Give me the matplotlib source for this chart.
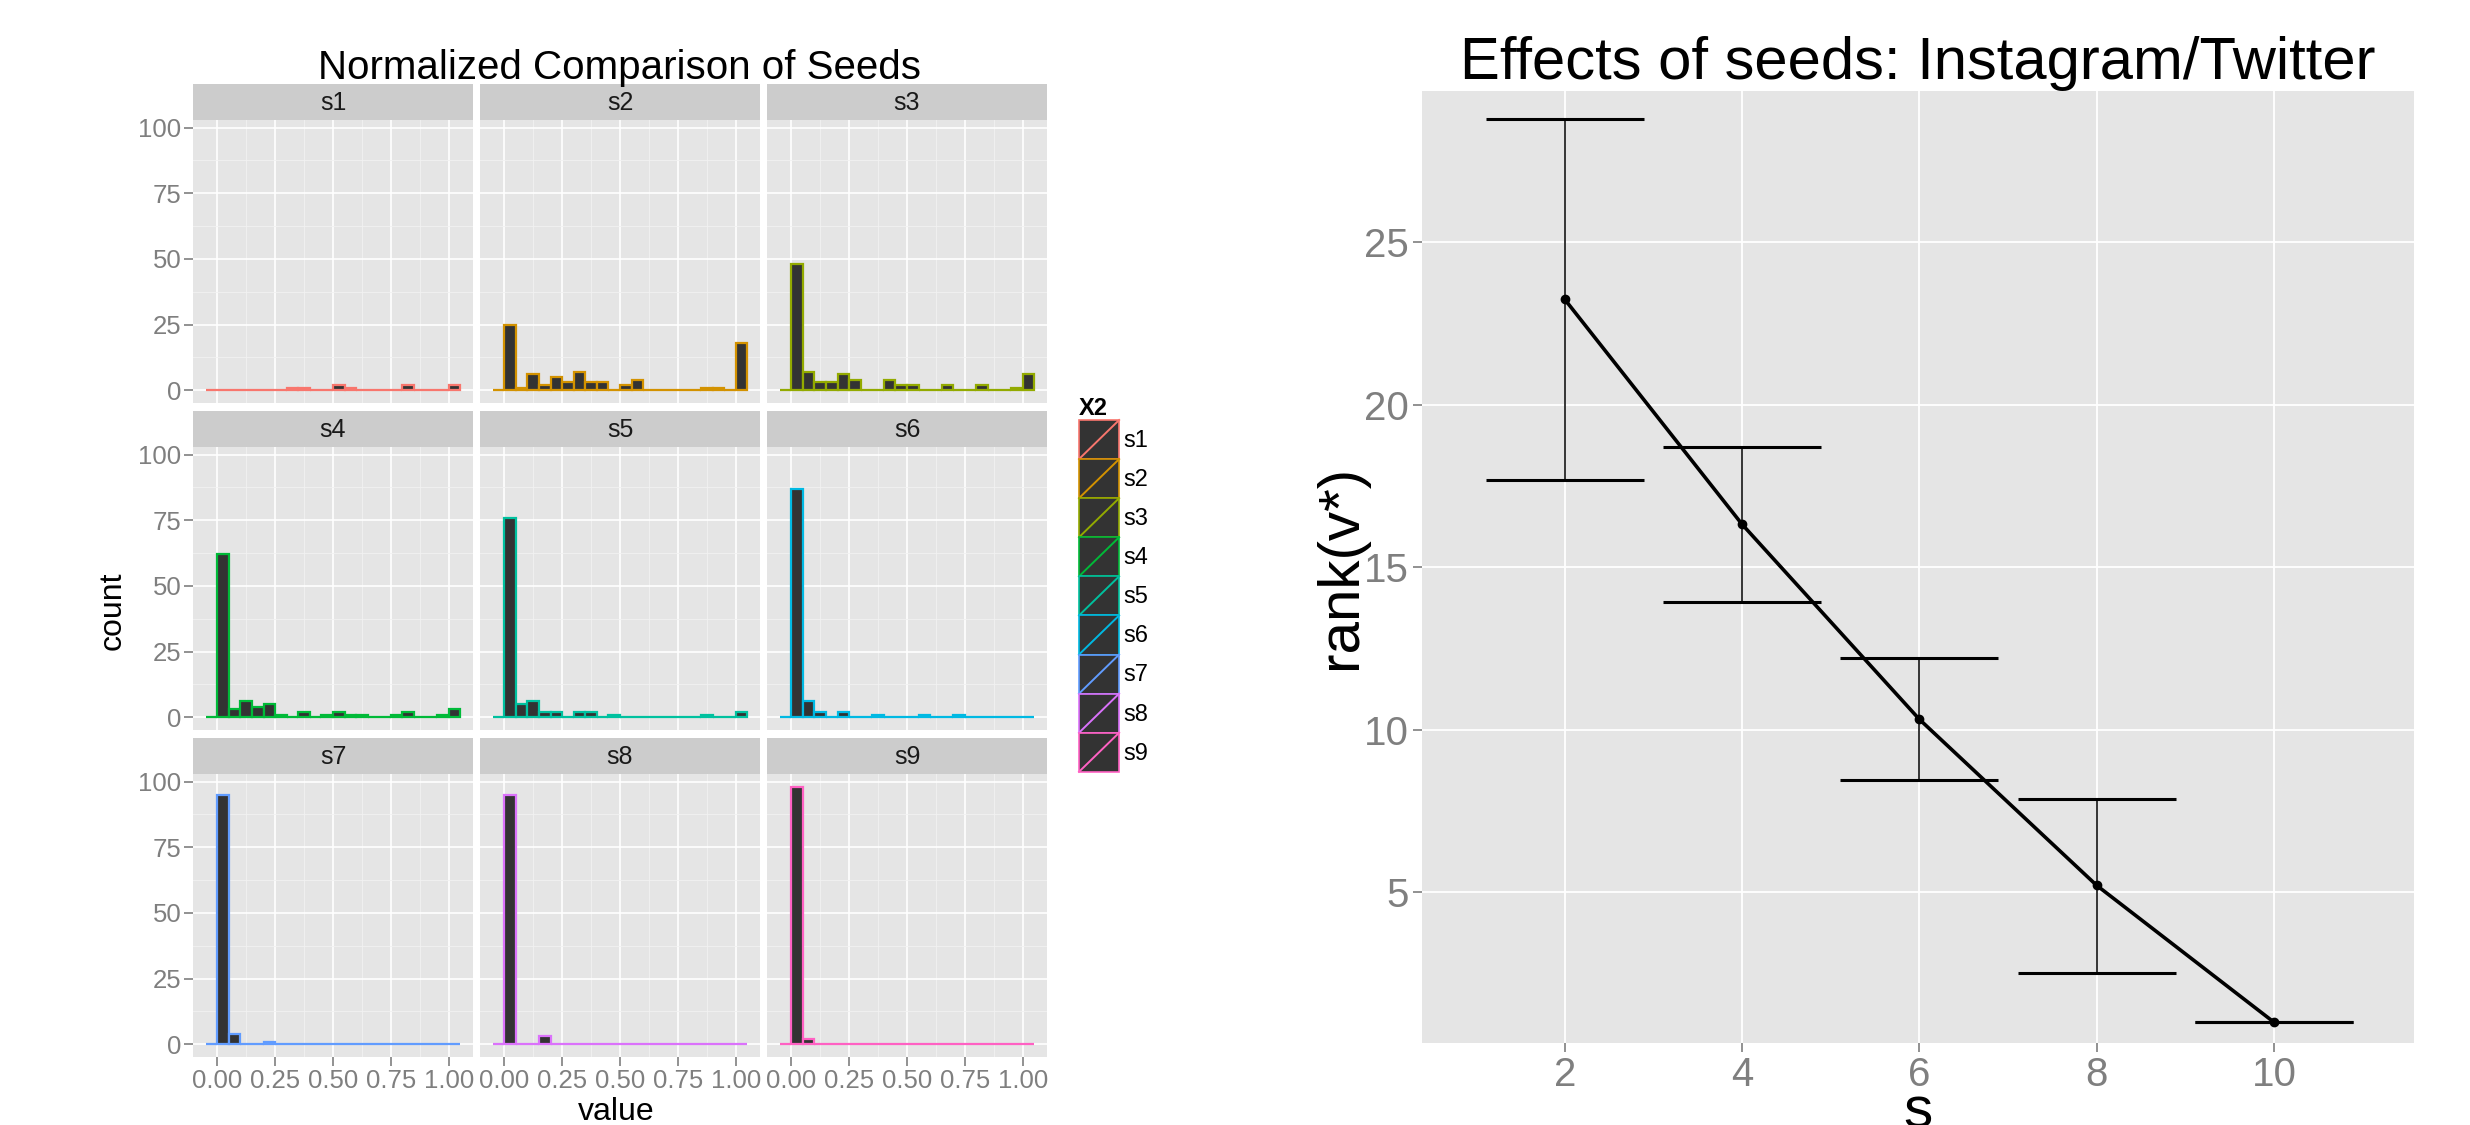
import matplotlib.pyplot as plt
import numpy as np
from matplotlib.patches import Patch, Rectangle
from matplotlib.lines import Line2D
from matplotlib.legend_handler import HandlerPatch

plt.rcParams['font.family'] = ['Liberation Sans', 'DejaVu Sans']

# histogram data: 22 bins of width 0.05 from -0.05 to 1.05
bin_width = 0.05
bin_left = -0.05
seeds = ['s1', 's2', 's3', 's4', 's5', 's6', 's7', 's8', 's9']
seed_colors = ['#F8766D', '#D39200', '#93AA00', '#00BA38', '#00C19F',
               '#00B9E3', '#619CFF', '#DB72FB', '#FF61C3']
counts_s1 = [0, 0, 0, 0, 0, 0, 0, 1, 1, 0, 0, 2, 1, 0, 0, 0, 0, 2, 0, 0, 0, 2]
counts_s2 = [0, 25, 1, 6, 2, 5, 3, 7, 3, 3, 0, 2, 4, 0, 0, 0, 0, 0, 1, 1, 0, 18]
counts_s3 = [0, 48, 7, 3, 3, 6, 4, 0, 0, 4, 2, 2, 0, 0, 2, 0, 0, 2, 0, 0, 1, 6]
counts_s4 = [0, 62, 3, 6, 4, 5, 1, 0, 2, 0, 1, 2, 1, 1, 0, 0, 1, 2, 0, 0, 1, 3]
counts_s5 = [0, 76, 5, 6, 2, 2, 0, 2, 2, 0, 1, 0, 0, 0, 0, 0, 0, 0, 1, 0, 0, 2]
counts_s6 = [0, 87, 6, 2, 0, 2, 0, 0, 1, 0, 0, 0, 1, 0, 0, 1, 0, 0, 0, 0, 0, 0]
counts_s7 = [0, 95, 4, 0, 0, 1, 0, 0, 0, 0, 0, 0, 0, 0, 0, 0, 0, 0, 0, 0, 0, 0]
counts_s8 = [0, 95, 0, 0, 3, 0, 0, 0, 0, 0, 0, 0, 0, 0, 0, 0, 0, 0, 0, 0, 0, 0]
counts_s9 = [0, 98, 2, 0, 0, 0, 0, 0, 0, 0, 0, 0, 0, 0, 0, 0, 0, 0, 0, 0, 0, 0]
all_counts = [counts_s1, counts_s2, counts_s3, counts_s4, counts_s5,
              counts_s6, counts_s7, counts_s8, counts_s9]
x_ticks = [0.0, 0.25, 0.5, 0.75, 1.0]
x_ticklabels = ['0.00', '0.25', '0.50', '0.75', '1.00']
y_ticks = [0, 25, 50, 75, 100]

# error bar data
s_vals = [2, 4, 6, 8, 10]
rank_mean = [23.24, 16.32, 10.32, 5.21, 1.0]
rank_low = [17.67, 13.94, 8.46, 2.52, 1.0]
rank_high = [28.79, 18.71, 12.19, 7.87, 1.0]

W, H = 2470, 1125
fig = plt.figure(figsize=(W / 100, H / 100), dpi=100)


def box(l, t, w, h):
    return [l / W, 1 - (t + h) / H, w / W, h / H]


grey_txt = '#7F7F7F'
panel_bg = '#E5E5E5'

col_left = [193, 480, 767]
row_top = [120, 447, 774]
pw, ph, sh = 280, 283, 36

for i, name in enumerate(seeds):
    r, c = divmod(i, 3)
    ax = fig.add_axes(box(col_left[c], row_top[r], pw, ph))
    ax.set_facecolor(panel_bg)
    centers = bin_left + bin_width * (np.arange(len(all_counts[i])) + 0.5)
    ax.bar(centers, all_counts[i], width=bin_width, color='#333333',
           edgecolor=seed_colors[i], linewidth=1.6, zorder=3)
    ax.set_xlim(-0.105, 1.105)
    ax.set_ylim(-4.9, 102.9)
    ax.set_xticks(x_ticks)
    ax.set_yticks(y_ticks)
    ax.set_xticks([0.125, 0.375, 0.625, 0.875], minor=True)
    ax.set_yticks([12.5, 37.5, 62.5, 87.5], minor=True)
    ax.grid(True, which='major', color='white', linewidth=1.2, zorder=0)
    ax.grid(True, which='minor', color='#F2F2F2', linewidth=0.6, zorder=0)
    ax.set_axisbelow(True)
    for sp in ax.spines.values():
        sp.set_visible(False)
    ax.tick_params(which='minor', length=0)
    ax.tick_params(which='major', color=grey_txt, width=1.2, length=6.5,
                   labelcolor=grey_txt, labelsize=18.5, pad=2)
    if c != 0:
        ax.tick_params(axis='y', left=False, labelleft=False)
    else:
        ax.set_yticklabels([str(v) for v in y_ticks])
    if r != 2:
        ax.tick_params(axis='x', bottom=False, labelbottom=False)
    else:
        ax.set_xticklabels(x_ticklabels)
    # strip
    sax = fig.add_axes(box(col_left[c], row_top[r] - sh, pw, sh))
    sax.set_facecolor('#CCCCCC')
    sax.set_xticks([])
    sax.set_yticks([])
    for sp in sax.spines.values():
        sp.set_visible(False)
    sax.text(0.5, 0.48, name, ha='center', va='center', fontsize=18,
             color='#1A1A1A', transform=sax.transAxes)

fig.text(620 / W, 1 - 79 / H, 'Normalized Comparison of Seeds', ha='center',
         va='baseline', fontsize=29, color='black')
fig.text(616 / W, 1 - 1120 / H, 'value', ha='center', va='baseline',
         fontsize=23, color='black')
fig.text(113 / W, 1 - 611 / H, 'count', ha='center', va='center',
         rotation=90, fontsize=23, color='black')


class DiagHandler(HandlerPatch):
    def create_artists(self, legend, orig_handle, xdescent, ydescent,
                       width, height, fontsize, trans):
        ec = orig_handle.get_edgecolor()
        rect = Rectangle((-xdescent, -ydescent), width, height,
                         facecolor='#333333', edgecolor=ec, linewidth=1.2,
                         transform=trans)
        line = Line2D([-xdescent, -xdescent + width],
                      [-ydescent, -ydescent + height], color=ec,
                      linewidth=1.4, transform=trans)
        return [rect, line]


handles = [Patch(facecolor='#333333', edgecolor=col) for col in seed_colors]
leg = fig.legend(handles, seeds, loc='upper left',
                 bbox_to_anchor=(1079 / W, 1 - 397 / H), frameon=False,
                 title='X2', title_fontproperties={'weight': 'bold', 'size': 17},
                 fontsize=17, handlelength=1.7, handleheight=2.17,
                 labelspacing=0.0, handletextpad=0.2, borderpad=0,
                 borderaxespad=0, alignment='left',
                 handler_map={Patch: DiagHandler()})

# right panel
ax2 = fig.add_axes(box(1422, 91, 992, 952))
ax2.set_facecolor(panel_bg)
mean = np.array(rank_mean)
yerr = [mean - np.array(rank_low), np.array(rank_high) - mean]
ax2.errorbar(s_vals, rank_mean, yerr=yerr, fmt='none', ecolor='black',
             elinewidth=1.1, capsize=57, capthick=2.2, zorder=3)
ax2.plot(s_vals, rank_mean, color='black', linewidth=2.6, marker='o',
         markersize=6, zorder=4)
ax2.set_xlim(0.39, 11.58)
ax2.set_ylim(0.36, 29.65)
ax2.set_xticks([2, 4, 6, 8, 10])
ax2.set_yticks([5, 10, 15, 20, 25])
ax2.grid(True, color='white', linewidth=1.3, zorder=0)
ax2.set_axisbelow(True)
for sp in ax2.spines.values():
    sp.set_visible(False)
ax2.tick_params(color=grey_txt, width=1.2, length=6.5, labelcolor=grey_txt,
                labelsize=29, pad=3)
ax2.set_title('Effects of seeds: Instagram/Twitter', fontsize=43, pad=4)
fig.text(1341 / W, 1 - 567 / H, 'rank(v*)', ha='center', va='center',
         rotation=90, fontsize=42, color='black')
fig.text(1918 / W, 1 - 1128 / H, 's', ha='center', va='baseline',
         fontsize=42, color='black')

fig.savefig('out.png', dpi=100)
